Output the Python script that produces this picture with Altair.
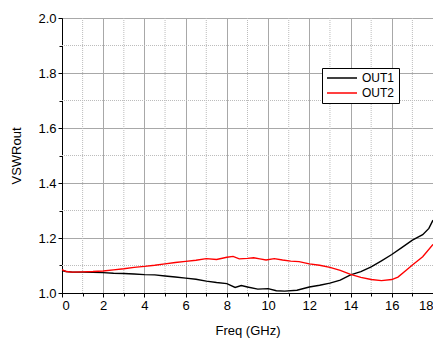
import altair as alt
import pandas as pd

freq1 = [0, 0.2, 0.5, 1.0, 1.5, 2.0, 2.5, 3.0, 3.5, 4.0, 4.5, 5.0, 5.5, 6.0, 6.5, 7.0, 7.5, 8.0, 8.4, 8.7,
         9.0, 9.5, 10.0, 10.4, 10.8, 11.4, 12.0, 12.5, 13.0, 13.5, 14.0, 14.5, 15.0, 15.5, 16.0, 16.5, 17.0,
         17.5, 17.8, 18.0]
out1 = [1.082, 1.078, 1.076, 1.076, 1.075, 1.074, 1.072, 1.071, 1.069, 1.067, 1.066, 1.062, 1.058, 1.054,
        1.050, 1.043, 1.038, 1.034, 1.020, 1.027, 1.022, 1.014, 1.016, 1.008, 1.007, 1.010, 1.022, 1.028,
        1.036, 1.047, 1.066, 1.078, 1.095, 1.117, 1.140, 1.166, 1.192, 1.212, 1.235, 1.265]

freq2 = [0, 0.2, 0.5, 1.0, 1.5, 2.0, 2.5, 3.0, 3.5, 4.0, 4.5, 5.0, 5.5, 6.0, 6.5, 7.0, 7.5, 8.0, 8.3, 8.6,
         9.0, 9.3, 9.6, 9.9, 10.3, 10.7, 11.1, 11.5, 12.0, 12.5, 13.0, 13.5, 14.0, 14.5, 15.0, 15.5, 16.0,
         16.3, 16.7, 17.0, 17.5, 18.0]
out2 = [1.085, 1.078, 1.076, 1.077, 1.078, 1.080, 1.084, 1.088, 1.093, 1.097, 1.101, 1.106, 1.111, 1.115,
        1.119, 1.125, 1.122, 1.130, 1.133, 1.124, 1.126, 1.128, 1.124, 1.120, 1.125, 1.120, 1.116, 1.114,
        1.106, 1.101, 1.093, 1.082, 1.068, 1.057, 1.049, 1.045, 1.049, 1.058, 1.083, 1.102, 1.132, 1.177]

series = ["OUT1", "OUT2"]
colors = ["#000000", "#ff0000"]

x_ticks = [0, 1, 2, 3, 4, 5, 6, 7, 8, 9, 10, 11, 12, 13, 14, 15, 16, 17, 18]
y_ticks = [1.0, 1.1, 1.2, 1.3, 1.4, 1.5, 1.6, 1.7, 1.8, 1.9, 2.0]
x_minor = [1, 3, 5, 7, 9, 11, 13, 15, 17]
y_minor = [1.1, 1.3, 1.5, 1.7, 1.9]

df = pd.concat([
    pd.DataFrame({"freq": freq1, "vswr": out1, "series": series[0], "order": range(len(freq1))}),
    pd.DataFrame({"freq": freq2, "vswr": out2, "series": series[1], "order": range(len(freq2))}),
])
df_xminor = pd.DataFrame({"freq": x_minor})
df_yminor = pd.DataFrame({"vswr": y_minor})

font = "Liberation Sans"
xmaj = "datum.value % 2 == 0"
ymaj = "round(datum.value * 10) % 2 == 0"


def axis_props(test):
    return dict(
        tickSize={"condition": {"test": test, "value": 4}, "value": 3},
        tickColor="black", domainColor="black", grid=True,
        gridColor="#a8a8a8",
        gridOpacity={"condition": {"test": test, "value": 1}, "value": 0},
        gridWidth=1, labelFontSize=13, labelColor="black", labelPadding=2, labelFont=font,
        titleFontSize=13, titleFontWeight="normal", titleColor="black", titleFont=font,
    )


x_enc = alt.X("freq:Q", scale=alt.Scale(domain=[0, 18], nice=False, zero=False), axis=alt.Axis(
    orient="bottom", values=x_ticks, title="Freq (GHz)",
    labelExpr="datum.value % 2 == 0 ? format(datum.value, 'd') : ''",
    titlePadding=12, **axis_props(xmaj)))
y_enc = alt.Y("vswr:Q", scale=alt.Scale(domain=[1.0, 2.0], nice=False, zero=False), axis=alt.Axis(
    orient="left", values=y_ticks, title="VSWRout",
    labelExpr="round(datum.value * 10) % 2 == 0 ? format(datum.value, '.1f') : ''",
    titlePadding=14, **axis_props(ymaj)))

xgrid = alt.Chart(df_xminor).mark_rule(color="#bcbcbc", strokeDash=[1, 1], strokeWidth=1).encode(x=x_enc)
ygrid = alt.Chart(df_yminor).mark_rule(color="#bcbcbc", strokeDash=[1, 1], strokeWidth=1).encode(y=y_enc)

lines = alt.Chart(df).mark_line(strokeWidth=1.4).encode(
    x=x_enc,
    y=y_enc,
    color=alt.Color("series:N", scale=alt.Scale(domain=series, range=colors), legend=alt.Legend(
        title=None, orient="none", legendX=260, legendY=50, strokeColor="black", fillColor="white",
        padding=4, symbolType="M-1,0H5", symbolSize=100, symbolStrokeWidth=1.5, labelFontSize=12,
        labelFont=font, labelColor="black", rowPadding=3, labelOffset=24, cornerRadius=0)),
    order="order:Q",
)

chart = alt.layer(xgrid, ygrid, lines).properties(
    width=371, height=275,
    autosize=alt.AutoSizeParams(type="none"),
    padding={"left": 54, "top": 10, "right": 0, "bottom": 47},
).configure(font=font).configure_view(stroke="black", strokeWidth=1)

chart.save("out.html", embed_options={"renderer": "svg", "actions": False})
